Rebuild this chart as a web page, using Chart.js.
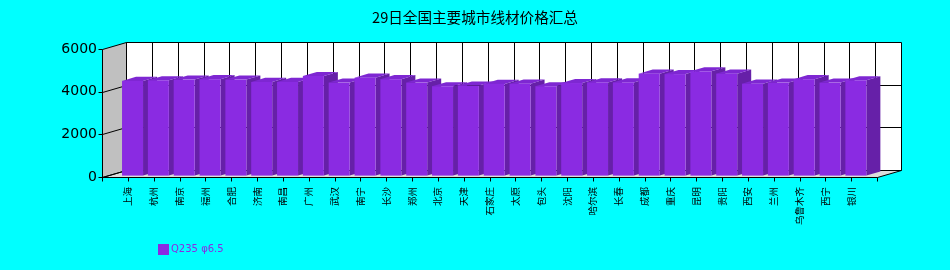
<!DOCTYPE html>
<html>
<head>
<meta charset="utf-8">
<script src="https://cdn.jsdelivr.net/npm/chart.js@4.4.1/dist/chart.umd.min.js"></script>
<style>
html,body{margin:0;padding:0;background:#00FFFF;overflow:hidden;}
#c{display:block;}
</style>
</head>
<body>
<canvas id="c" width="950" height="270"></canvas>
<script>
// ---- data ----
const titleText = '29日全国主要城市线材价格汇总';
const seriesName = 'Q235 φ6.5';
const cities = ['上海','杭州','南京','福州','合肥','济南','南昌','广州','武汉','南宁','长沙','郑州','北京','天津','石家庄','太原','包头','沈阳','哈尔滨','长春','成都','重庆','昆明','贵阳','西安','兰州','乌鲁木齐','西宁','银川'];
const prices = [4440, 4470, 4500, 4520, 4500, 4390, 4390, 4670, 4360, 4590, 4520, 4360, 4190, 4220, 4300, 4310, 4190, 4340, 4370, 4370, 4780, 4760, 4890, 4780, 4310, 4360, 4520, 4360, 4470];
const yTicks = [0, 2000, 4000, 6000];

// ---- styles ----
const FRONT = '#8A2BE2', SIDE = '#6620A8', TOPC = '#7E27D2';
const WALL_D = 24, WALL_E = 7;          // 3D depth offset of the box
const BAR_OX = 4.7, BAR_OY = 1.4;       // bar front-face depth offset
const BAR_DX = 14, BAR_DY = 4.1;        // bar depth

const box3d = {
  id: 'box3d',
  beforeDraw(chart) {
    const ctx = chart.ctx;
    ctx.save();
    ctx.fillStyle = '#00FFFF';
    ctx.fillRect(0, 0, chart.width, chart.height);
    ctx.restore();
  },
  beforeDatasetsDraw(chart) {
    const ctx = chart.ctx;
    const {left, right, top, bottom} = chart.chartArea;
    const xs = chart.scales.x, ys = chart.scales.y;
    const L = Math.round(left) + 0.5, R = Math.round(right) + 0.5;
    const T = Math.round(top) + 0.5, B = Math.round(bottom) + 0.5;
    ctx.save();
    // left wall
    ctx.fillStyle = '#C0C0C0';
    ctx.beginPath();
    ctx.moveTo(L, T); ctx.lineTo(L + WALL_D, T - WALL_E); ctx.lineTo(L + WALL_D, B - WALL_E); ctx.lineTo(L, B); ctx.closePath();
    ctx.fill();
    // back wall
    ctx.fillStyle = '#FFFFFF';
    ctx.fillRect(L + WALL_D, T - WALL_E, R - L, B - T);
    // floor
    ctx.fillStyle = '#DCDCDC';
    ctx.beginPath();
    ctx.moveTo(L, B); ctx.lineTo(L + WALL_D, B - WALL_E); ctx.lineTo(R + WALL_D, B - WALL_E); ctx.lineTo(R, B); ctx.closePath();
    ctx.fill();

    ctx.strokeStyle = '#000';
    ctx.lineWidth = 1;
    ctx.beginPath();
    // y grid: tick, left-wall diagonal, back-wall horizontal
    yTicks.forEach(v => {
      const py = Math.round(ys.getPixelForValue(v)) + 0.5;
      ctx.moveTo(L - 4, py); ctx.lineTo(L, py);
      ctx.lineTo(L + WALL_D, py - WALL_E); ctx.lineTo(R + WALL_D, py - WALL_E);
    });
    // x grid: tick marks below front axis, verticals on back wall
    xs.ticks.forEach(t => {
      const px = Math.round(xs.getPixelForValue(t.value)) + 0.5;
      ctx.moveTo(px, B); ctx.lineTo(px, B + 4);
      ctx.moveTo(px + WALL_D, T - WALL_E); ctx.lineTo(px + WALL_D, B - WALL_E);
    });
    // outlines
    ctx.moveTo(L, T); ctx.lineTo(L, B); ctx.lineTo(R, B); ctx.lineTo(R + WALL_D, B - WALL_E);
    ctx.moveTo(L + WALL_D, T - WALL_E); ctx.lineTo(L + WALL_D, B - WALL_E);
    ctx.moveTo(L, B); ctx.lineTo(L + WALL_D, B - WALL_E);
    ctx.stroke();
    ctx.restore();
  },
  beforeDatasetDraw() { return false; },
  afterDatasetsDraw(chart) {
    const ctx = chart.ctx;
    const meta = chart.getDatasetMeta(0);
    ctx.save();
    meta.data.forEach(bar => {
      const p = bar.getProps(['x', 'y', 'base', 'width'], true);
      const l = p.x - p.width / 2 + BAR_OX, r = p.x + p.width / 2 + BAR_OX;
      const t = p.y - BAR_OY, b = p.base - BAR_OY;
      ctx.fillStyle = SIDE;
      ctx.beginPath();
      ctx.moveTo(r, t); ctx.lineTo(r + BAR_DX, t - BAR_DY); ctx.lineTo(r + BAR_DX, b - BAR_DY); ctx.lineTo(r, b); ctx.closePath();
      ctx.fill();
      ctx.fillStyle = TOPC;
      ctx.beginPath();
      ctx.moveTo(l, t); ctx.lineTo(l + BAR_DX, t - BAR_DY); ctx.lineTo(r + BAR_DX, t - BAR_DY); ctx.lineTo(r, t); ctx.closePath();
      ctx.fill();
      ctx.fillStyle = FRONT;
      ctx.fillRect(l, t, r - l, b - t);
    });
    ctx.restore();
  },
  afterDraw(chart) {
    // legend
    const ctx = chart.ctx;
    const ds = chart.data.datasets[0];
    ctx.save();
    ctx.fillStyle = ds.backgroundColor;
    ctx.fillRect(158, 244, 11, 11);
    ctx.font = '10px "DejaVu Sans"';
    ctx.textBaseline = 'middle';
    ctx.textAlign = 'left';
    ctx.fillText(ds.label, 171, 249.5);
    ctx.restore();
  }
};

new Chart(document.getElementById('c'), {
  type: 'bar',
  data: {
    datasets: [{
      label: seriesName,
      data: prices.map((v, i) => ({x: i + 1, y: v})),
      backgroundColor: FRONT,
      barThickness: 21
    }]
  },
  options: {
    responsive: false,
    animation: false,
    devicePixelRatio: 1,
    layout: {padding: {left: 0, right: 0, top: 0, bottom: 0}},
    plugins: {
      legend: {display: false},
      tooltip: {enabled: false},
      title: {
        display: true,
        text: titleText,
        color: '#000',
        font: {family: '"Noto Sans CJK SC"', size: 14.6, weight: 'normal', lineHeight: 1.2},
        padding: {top: 8.3, bottom: 23.2}
      }
    },
    scales: {
      x: {
        type: 'linear',
        min: 0,
        max: cities.length + 1,
        offset: false,
        grid: {display: false, drawTicks: false},
        border: {display: false},
        ticks: {
          stepSize: 1,
          maxTicksLimit: 100,
          autoSkip: false,
          maxRotation: 90,
          minRotation: 90,
          padding: 10,
          color: '#000',
          font: {family: '"Noto Sans CJK SC"', size: 9.5},
          callback: v => cities[v - 1] || ''
        },
        afterFit: s => { s.height = 93; }
      },
      y: {
        min: 0,
        max: 6000,
        grid: {display: false, drawTicks: false},
        border: {display: false},
        ticks: {
          stepSize: 2000,
          padding: 5,
          color: '#000',
          font: {family: '"DejaVu Sans"', size: 14},
          callback: v => String(v)
        },
        afterFit: s => { s.width = 102; }
      },
      yRight: {
        position: 'right',
        min: 0,
        max: 6000,
        grid: {display: false, drawTicks: false},
        border: {display: false},
        ticks: {display: false},
        afterFit: s => { s.width = 73; }
      }
    }
  },
  plugins: [box3d]
});
</script>
</body>
</html>
